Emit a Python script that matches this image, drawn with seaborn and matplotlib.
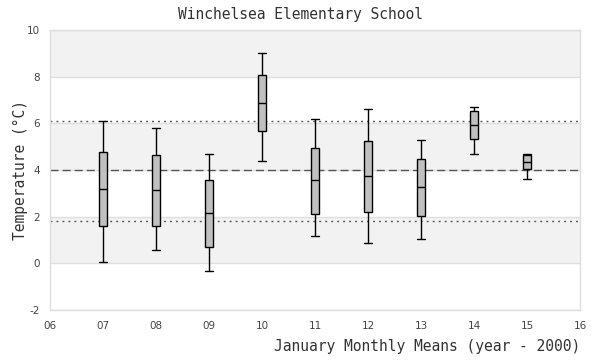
import numpy as np
import pandas as pd
import matplotlib
matplotlib.use("Agg")
import matplotlib.pyplot as plt
import seaborn as sns

# ---- data ----
years = [7, 8, 9, 10, 11, 12, 13, 14, 15]
mins = [0.07, 0.59, -0.31, 4.39, 1.19, 0.89, 1.06, 4.69, 3.60]
q1s = [1.58, 1.62, 0.72, 5.66, 2.12, 2.22, 2.05, 5.32, 4.03]
medians = [3.18, 3.13, 2.14, 6.87, 3.56, 3.73, 3.26, 5.94, 4.34]
q3s = [4.76, 4.63, 3.56, 8.07, 4.93, 5.23, 4.46, 6.52, 4.64]
maxs = [6.09, 5.79, 4.67, 9.03, 6.18, 6.61, 5.28, 6.70, 4.67]

mean_line = 3.99
upper_line = 6.09
lower_line = 1.80

x_ticks = [6, 7, 8, 9, 10, 11, 12, 13, 14, 15, 16]
x_tick_labels = ["06", "07", "08", "09", "10", "11", "12", "13", "14", "15", "16"]
y_ticks = [-2, 0, 2, 4, 6, 8, 10]
y_tick_labels = ["-2", "0", "2", "4", "6", "8", "10"]

title = "Winchelsea Elementary School"
x_label = "January Monthly Means (year - 2000)"
y_label = "Temperature (°C)"

# long-form table: five points per year reproduce the five box statistics
rows = []
for y, a, b, c, d, e in zip(years, mins, q1s, medians, q3s, maxs):
    for v in (a, b, c, d, e):
        rows.append({"year": y, "temp": v})
df = pd.DataFrame(rows)

sns.set_style("white")
mono = ["DejaVu Sans Mono"]

fig = plt.figure(figsize=(6, 3.6), dpi=100)
ax = fig.add_axes([50 / 600, 50 / 360, 530 / 600, 280 / 360])

# alternating bands
for lo in (0, 4, 8):
    ax.axhspan(lo, lo + 2, color="#f2f2f2", zorder=0, lw=0)
ax.set_axisbelow(True)
ax.yaxis.grid(True, color="#dedede", lw=1)
ax.xaxis.grid(False)

ax.axhline(mean_line, color="#555555", lw=1, ls=(0, (5.8, 2.9)), zorder=1)
ax.axhline(upper_line, color="#555555", lw=1, ls=(0, (1.4, 2.9)), zorder=1)
ax.axhline(lower_line, color="#555555", lw=1, ls=(0, (1.4, 2.9)), zorder=1)

sns.boxplot(data=df, x="year", y="temp", native_scale=True, width=0.15,
            whis=(0, 100), color="#c0c0c0", linecolor="black", linewidth=1.0,
            fliersize=0, saturation=1, ax=ax, capwidths=0.15, zorder=3)

ax.set_xlim(6, 16)
ax.set_ylim(-2, 10)
ax.set_xticks(x_ticks)
ax.set_xticklabels(x_tick_labels)
ax.set_yticks(y_ticks)
ax.set_yticklabels(y_tick_labels)
ax.tick_params(axis="both", length=0, labelsize=7.5, labelcolor="#444444")
ax.tick_params(axis="x", pad=8)
ax.tick_params(axis="y", pad=7.5)

for s in ax.spines.values():
    s.set_color("#dedede")
    s.set_linewidth(1)

ax.set_xlabel("")
ax.set_ylabel("")
fig.text(0.5, 1 - 14 / 360, title, ha="center", va="center",
         family=mono, fontsize=10.5, color="#333333")
fig.text(580 / 600, 1 - 347 / 360, x_label, ha="right", va="center",
         family=mono, fontsize=10.5, color="#333333")
fig.text(20 / 600, 1 - 170 / 360, y_label, ha="center", va="center",
         rotation=90, family=mono, fontsize=10.5, color="#333333")

fig.savefig("out.png", dpi=100)
